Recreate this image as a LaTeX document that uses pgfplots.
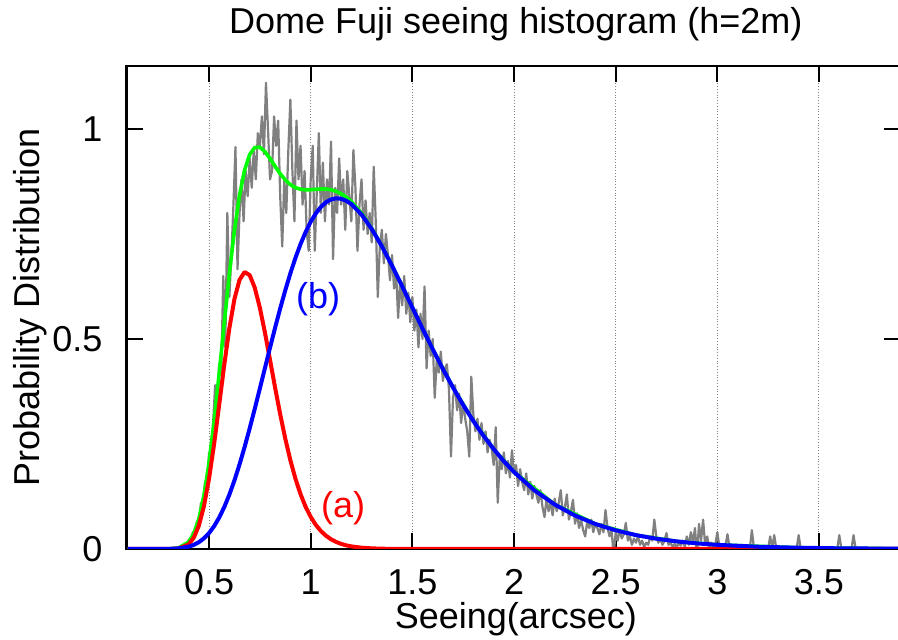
\documentclass[border=0pt]{standalone}
\usepackage{pgfplots}
\pgfplotsset{compat=1.18}
\usepackage{fontspec}
\setmainfont{Liberation Sans}
\newcommand{\fs}{\fontsize{18}{21}\selectfont}
\definecolor{dgray}{RGB}{128,128,128}
\definecolor{gGreen}{RGB}{0,255,0}
\definecolor{gRed}{RGB}{255,0,0}
\definecolor{gBlue}{RGB}{0,0,255}
\begin{document}
\begin{tikzpicture}
\begin{axis}[
  at={(0,0)}, anchor=south west,
  scale only axis, width=386.8pt, height=241.5pt,
  xmin=0.095, xmax=3.9, ymin=0, ymax=1.15,
  xtick={0.5,1,1.5,2,2.5,3,3.5},
  xticklabels={0.5,1,1.5,2,2.5,3,3.5},
  ytick={0,0.5,1},
  yticklabels={0,0.5,1},
  tick pos=both, tick align=inside,
  major tick length=8pt,
  every tick/.style={black, line width=1pt},
  axis line style={black, line width=1.3pt},
  xmajorgrids, major grid style={dgray, densely dotted, line width=0.5pt},
  /pgf/number format/assume math mode=true,
  xticklabel style={font=\fs, anchor=north, inner sep=0pt, yshift=-10pt},
  yticklabel style={font=\fs, anchor=east, inner sep=0pt, xshift=-12pt},
  title={Dome Fuji seeing histogram (h=2m)},
  title style={font=\fs, at={(axis description cs:0.503,1.0415)}, anchor=base, inner sep=0pt},
  xlabel={Seeing(arcsec)},
  xlabel style={font=\fs, at={(axis description cs:0.503,-0.1650)}, anchor=base, inner sep=0pt},
  ylabel={Probability Distribution},
  ylabel style={font=\fs, at={(axis description cs:-0.1125,0.5)}, anchor=base, rotate=0, inner sep=0pt},
]
\addplot[dgray, line width=1.1pt, line join=round] table[row sep=\\] {
x y\\
0.10 0\\ 0.34 0\\
0.35 0.002\\ 0.36 0.006\\ 0.37 0.004\\ 0.38 0.012\\ 0.39 0.008\\
0.40 0.022\\ 0.41 0.015\\ 0.42 0.040\\ 0.43 0.030\\ 0.44 0.065\\
0.45 0.050\\ 0.46 0.110\\ 0.47 0.090\\ 0.48 0.160\\ 0.49 0.140\\
0.50 0.230\\ 0.51 0.200\\ 0.52 0.300\\ 0.53 0.390\\ 0.54 0.350\\
0.55 0.440\\ 0.56 0.420\\ 0.57 0.650\\ 0.58 0.480\\ 0.59 0.800\\
0.60 0.600\\ 0.61 0.700\\ 0.62 0.820\\ 0.63 0.957\\ 0.64 0.666\\
0.65 0.800\\ 0.66 0.880\\ 0.67 0.780\\ 0.68 0.900\\ 0.69 0.840\\
0.70 0.930\\ 0.71 0.860\\ 0.72 0.950\\ 0.73 0.880\\ 0.74 0.990\\
0.75 0.960\\ 0.76 1.030\\ 0.77 0.940\\ 0.78 1.110\\ 0.79 1.000\\
0.80 0.880\\ 0.81 0.900\\ 0.82 1.030\\ 0.83 0.960\\ 0.84 1.020\\
0.85 0.840\\ 0.86 0.720\\ 0.87 0.880\\ 0.88 0.800\\ 0.89 0.950\\
0.90 1.070\\ 0.91 0.900\\ 0.92 0.780\\ 0.93 1.020\\ 0.94 0.880\\
0.95 0.960\\ 0.96 0.820\\ 0.97 0.900\\ 0.98 0.760\\ 0.99 0.710\\
1.00 0.880\\ 1.01 0.960\\ 1.02 0.710\\ 1.03 0.850\\ 1.04 0.990\\
1.05 0.800\\ 1.06 0.920\\ 1.07 0.780\\ 1.08 0.880\\ 1.09 0.820\\
1.10 0.970\\ 1.11 0.690\\ 1.12 0.860\\ 1.13 0.800\\ 1.14 0.930\\
1.15 0.820\\ 1.16 0.880\\ 1.17 0.760\\ 1.18 0.900\\ 1.19 0.840\\
1.20 0.780\\ 1.21 0.950\\ 1.22 0.860\\ 1.23 0.710\\ 1.24 0.820\\
1.25 0.880\\ 1.26 0.760\\ 1.27 0.830\\ 1.28 0.750\\ 1.29 0.800\\
1.30 0.730\\ 1.31 0.910\\ 1.32 0.780\\ 1.33 0.600\\ 1.34 0.720\\
1.35 0.760\\ 1.36 0.680\\ 1.37 0.750\\ 1.38 0.700\\ 1.39 0.640\\
1.40 0.700\\ 1.41 0.620\\ 1.42 0.660\\ 1.43 0.550\\ 1.44 0.640\\
1.45 0.580\\ 1.46 0.650\\ 1.47 0.560\\ 1.48 0.610\\ 1.49 0.540\\
1.50 0.600\\ 1.51 0.520\\ 1.52 0.570\\ 1.53 0.480\\ 1.54 0.560\\
1.55 0.500\\ 1.56 0.625\\ 1.57 0.430\\ 1.58 0.520\\ 1.59 0.460\\
1.60 0.500\\ 1.61 0.360\\ 1.62 0.450\\ 1.63 0.420\\ 1.64 0.470\\
1.65 0.400\\ 1.66 0.430\\ 1.67 0.440\\ 1.68 0.380\\ 1.69 0.220\\
1.70 0.360\\ 1.71 0.390\\ 1.72 0.330\\ 1.73 0.370\\ 1.74 0.300\\
1.75 0.350\\ 1.76 0.310\\ 1.77 0.280\\ 1.78 0.220\\ 1.79 0.410\\
1.80 0.320\\ 1.81 0.280\\ 1.82 0.310\\ 1.83 0.260\\ 1.84 0.300\\
1.85 0.250\\ 1.86 0.280\\ 1.87 0.230\\ 1.88 0.260\\ 1.89 0.240\\
1.90 0.200\\ 1.91 0.290\\ 1.92 0.110\\ 1.93 0.220\\ 1.94 0.190\\
1.95 0.230\\ 1.96 0.180\\ 1.97 0.210\\ 1.98 0.170\\ 1.99 0.235\\
2.00 0.180\\ 2.01 0.200\\ 2.02 0.150\\ 2.03 0.190\\ 2.04 0.160\\
2.05 0.140\\ 2.06 0.180\\ 2.07 0.130\\ 2.08 0.160\\ 2.09 0.120\\
2.10 0.150\\ 2.11 0.130\\ 2.12 0.110\\ 2.13 0.140\\ 2.14 0.100\\
2.15 0.076\\ 2.16 0.120\\ 2.17 0.090\\ 2.18 0.110\\ 2.19 0.080\\
2.20 0.120\\ 2.21 0.090\\ 2.22 0.110\\ 2.23 0.140\\ 2.24 0.080\\
2.25 0.100\\ 2.26 0.130\\ 2.27 0.070\\ 2.28 0.090\\ 2.29 0.117\\
2.30 0.060\\ 2.31 0.085\\ 2.32 0.050\\ 2.33 0.070\\ 2.34 0.045\\
2.35 0.030\\ 2.36 0.065\\ 2.37 0.050\\ 2.38 0.070\\ 2.39 0.040\\
2.40 0.060\\ 2.41 0.050\\ 2.42 0.035\\ 2.43 0.060\\ 2.44 0.040\\
2.45 0.093\\ 2.46 0.050\\ 2.47 0.030\\ 2.48 0.045\\ 2.49 -0.015\\
2.50 0.040\\ 2.51 0.020\\ 2.52 0.045\\ 2.53 0.025\\ 2.54 0.035\\
2.55 0.062\\ 2.56 0.020\\ 2.57 0.030\\ 2.58 0.010\\ 2.59 0.025\\
2.60 0.015\\ 2.61 0.030\\ 2.62 0.010\\ 2.63 0.020\\ 2.64 0.005\\
2.65 0.015\\ 2.66 0.010\\ 2.67 0.030\\ 2.68 0.020\\ 2.69 0.070\\
2.70 0.030\\ 2.71 0.015\\ 2.72 0.025\\ 2.73 0.010\\ 2.74 0.020\\
2.75 0.038\\ 2.76 0.010\\ 2.77 0.015\\ 2.78 0.005\\ 2.79 0.012\\
2.80 0.004\\ 2.81 0.015\\ 2.82 0.008\\ 2.83 0.020\\ 2.84 0.005\\
2.85 0.030\\ 2.86 0.010\\ 2.87 0.040\\ 2.88 0.015\\ 2.89 0.050\\
2.90 -0.015\\ 2.91 0.060\\ 2.92 0.020\\ 2.93 0.070\\ 2.94 0.010\\
2.95 0.030\\ 2.96 0.005\\ 2.97 0.015\\ 2.98 0.002\\ 2.99 0.010\\
3.00 0.040\\ 3.01 0.005\\ 3.02 0.010\\ 3.03 0.002\\ 3.04 0.008\\
3.05 0.035\\ 3.06 0.004\\ 3.07 0.010\\ 3.08 0.002\\ 3.09 0.006\\
3.10 0.001\\ 3.11 0.004\\ 3.12 0.001\\ 3.13 0.003\\ 3.14 0.001\\
3.15 0.004\\ 3.16 0.002\\ 3.17 0.045\\ 3.18 0.002\\ 3.19 0.003\\
3.20 0.001\\ 3.22 0.002\\ 3.25 0.001\\ 3.26 0.030\\ 3.27 0.002\\
3.28 0.033\\ 3.29 0.001\\ 3.39 0.001\\ 3.40 0.033\\ 3.41 0.001\\
3.59 0.001\\ 3.60 0.033\\ 3.61 0.001\\ 3.66 0.001\\ 3.67 0.033\\
3.68 0.001\\ 3.70 0\\ 3.9 0\\
};
\addplot[gGreen, line width=1.8pt, line join=round] table[row sep=\\] {
x y\\
0.1 0\\ 0.3 0.0002\\ 0.35 0.0025\\ 0.40 0.0166\\ 0.425 0.0367\\ 0.45 0.0720\\
0.475 0.1276\\ 0.50 0.2056\\ 0.525 0.3045\\ 0.55 0.4186\\ 0.575 0.5389\\
0.60 0.6554\\ 0.625 0.7587\\ 0.65 0.8422\\ 0.675 0.9024\\ 0.70 0.9394\\
0.725 0.9560\\ 0.75 0.9565\\ 0.775 0.9461\\ 0.80 0.9296\\ 0.825 0.9110\\
0.85 0.8934\\ 0.875 0.8787\\ 0.90 0.8676\\ 0.925 0.8603\\ 0.95 0.8565\\
0.975 0.8551\\ 1.00 0.8554\\ 1.025 0.8564\\ 1.05 0.8571\\ 1.075 0.8570\\
1.10 0.8553\\ 1.125 0.8517\\ 1.15 0.8459\\ 1.175 0.8377\\ 1.20 0.8273\\
1.25 0.7995\\ 1.30 0.7636\\ 1.35 0.7214\\ 1.40 0.6748\\ 1.45 0.6254\\
1.50 0.5750\\ 1.55 0.5247\\ 1.60 0.4758\\ 1.70 0.3844\\ 1.80 0.3047\\
1.90 0.2378\\ 2.00 0.1833\\ 2.2 0.1059\\ 2.4 0.0596\\ 2.6 0.0330\\
2.8 0.0181\\ 3.0 0.0099\\ 3.4 0.0030\\ 3.9 0.0007\\
};
\addplot[gRed, line width=2pt, line join=round] table[row sep=\\] {
x y\\
0.1 0\\ 0.3 0.0000\\ 0.35 0.0011\\ 0.40 0.0111\\ 0.425 0.0269\\ 0.45 0.0558\\
0.475 0.1022\\ 0.50 0.1677\\ 0.525 0.2502\\ 0.55 0.3437\\ 0.575 0.4390\\
0.60 0.5259\\ 0.625 0.5953\\ 0.65 0.6408\\ 0.675 0.6595\\ 0.70 0.6520\\
0.725 0.6219\\ 0.75 0.5743\\ 0.775 0.5151\\ 0.80 0.4501\\ 0.825 0.3840\\
0.85 0.3207\\ 0.875 0.2627\\ 0.90 0.2113\\ 0.925 0.1673\\ 0.95 0.1306\\
0.975 0.1005\\ 1.00 0.0765\\ 1.025 0.0575\\ 1.05 0.0428\\ 1.075 0.0316\\
1.10 0.0231\\ 1.125 0.0168\\ 1.15 0.0121\\ 1.175 0.0086\\ 1.20 0.0062\\
1.25 0.0031\\ 1.30 0.0015\\ 1.35 0.0007\\ 1.40 0.0003\\ 1.50 0.0001\\
3.9 0\\
};
\addplot[gBlue, line width=2pt, line join=round] table[row sep=\\] {
x y\\
0.1 0\\ 0.25 0.0000\\ 0.30 0.0002\\ 0.35 0.0014\\ 0.40 0.0055\\ 0.425 0.0098\\
0.45 0.0162\\ 0.475 0.0254\\ 0.50 0.0379\\ 0.525 0.0543\\ 0.55 0.0749\\
0.575 0.0999\\ 0.60 0.1295\\ 0.625 0.1634\\ 0.65 0.2014\\ 0.675 0.2429\\
0.70 0.2874\\ 0.725 0.3341\\ 0.75 0.3822\\ 0.775 0.4310\\ 0.80 0.4795\\
0.825 0.5270\\ 0.85 0.5727\\ 0.875 0.6160\\ 0.90 0.6563\\ 0.925 0.6930\\
0.95 0.7259\\ 0.975 0.7546\\ 1.00 0.7789\\ 1.025 0.7989\\ 1.05 0.8143\\
1.075 0.8254\\ 1.10 0.8322\\ 1.125 0.8349\\ 1.15 0.8338\\ 1.175 0.8291\\
1.20 0.8211\\ 1.25 0.7964\\ 1.30 0.7621\\ 1.35 0.7207\\ 1.40 0.6745\\
1.45 0.6253\\ 1.50 0.5749\\ 1.55 0.5247\\ 1.60 0.4758\\ 1.65 0.4288\\
1.70 0.3844\\ 1.75 0.3429\\ 1.80 0.3047\\ 1.85 0.2696\\ 1.90 0.2378\\
1.95 0.2091\\ 2.00 0.1833\\ 2.1 0.1399\\ 2.2 0.1059\\ 2.3 0.0797\\
2.4 0.0596\\ 2.5 0.0445\\ 2.6 0.0330\\ 2.7 0.0245\\ 2.8 0.0181\\
2.9 0.0134\\ 3.0 0.0099\\ 3.2 0.0054\\ 3.4 0.0030\\ 3.6 0.0016\\
3.9 0.0007\\
};
\node[text=gRed, font=\fs] at (axis cs:1.16,0.098) {(a)};
\node[text=gBlue, font=\fs] at (axis cs:1.036,0.594) {(b)};
\end{axis}
\pgfresetboundingbox
\useasboundingbox (-63.35pt,-45.5pt) rectangle (385.65pt,274.5pt);
\end{tikzpicture}
\end{document}
